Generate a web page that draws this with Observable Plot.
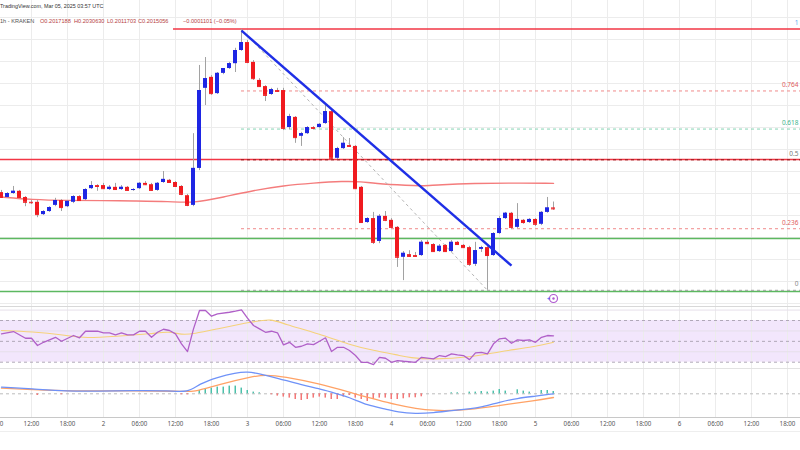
<!DOCTYPE html>
<html><head><meta charset="utf-8">
<script src="https://cdn.jsdelivr.net/npm/d3@7"></script>
<script src="https://cdn.jsdelivr.net/npm/@observablehq/plot@0.6"></script>
<style>
html,body{margin:0;padding:0;background:#fff;}
#chart{position:relative;width:800px;height:450px;overflow:hidden;font-family:"Liberation Sans",Arial,sans-serif;background:#fff;}
.pane{position:absolute;left:0;}
.hdr{position:absolute;white-space:nowrap;line-height:1;font-size:5.6px;}
.val{color:#b5423f;}
</style></head><body>
<div id="chart">
 <div id="price" class="pane" style="top:0"></div>
 <div id="rsi" class="pane" style="top:306px"></div>
 <div id="macd" class="pane" style="top:368px"></div>
 <div style="position:absolute;left:0;top:431px;width:800px;height:1px;background:#eeeeee"></div>
 <div class="hdr" style="left:0;top:4px;color:#333;font-size:5.4px">TradingView.com, Mar 05, 2025 03:57 UTC</div>
 <div id="ohlc"></div>
</div>
<script>
// ---------- data ----------
const firstCandle = new Date("2025-03-01T07:00:00Z"); // 1h candles, DOGE/USD Kraken
const open  = [.2052,.2041,.2050,.2055,.2041,.2030,.2030,.2002,.2009,.2023,
 .2034,.2020,.2030,.2043,.2036,.2061,.2068,.2068,.2059,.2064,
 .2059,.2064,.2057,.2061,.2073,.2070,.2057,.2075,.2080,.2075,
 .2066,.2045,.2023,.2107,.2289,.2314,.2277,.2323,.2334,.2345,
 .2375,.2393,.2348,.2307,.2293,.2275,.2284,.2284,.2200,.2223,
 .2180,.2186,.2200,.2200,.2209,.2236,.2130,.2152,.2159,.2157,
 .2064,.1984,.1993,.1941,.1998,.1989,.1973,.1905,.1911,.1909,
 .1909,.1939,.1934,.1918,.1932,.1918,.1939,.1932,.1927,.1889,
 .1923,.1927,.1909,.1959,.1993,.2005,.1973,.1989,.1984,.1991,
 .1980,.2007,.2017188];
const high  = [.2057,.2052,.2066,.2057,.2043,.2034,.2034,.2011,.2020,.2039,
 .2036,.2034,.2045,.2045,.2061,.2077,.2070,.2073,.2068,.2073,
 .2068,.2066,.2061,.2075,.2077,.2073,.2075,.2100,.2082,.2077,
 .2068,.2048,.2186,.2341,.2359,.2318,.2325,.2330,.2348,.2380,
 .2423,.2398,.2352,.2311,.2295,.2289,.2289,.2289,.2230,.2225,
 .2189,.2202,.2202,.2209,.2250,.2239,.2155,.2177,.2175,.2159,
 .2066,.1995,.2007,.2002,.2009,.1993,.1975,.1918,.1920,.1916,
 .1943,.1943,.1936,.1934,.1934,.1943,.1941,.1934,.1930,.1939,
 .1930,.1930,.1961,.1998,.2007,.2007,.2027,.1991,.1993,.1993,
 .2009,.2041,.2030630];
const low   = [.2039,.2039,.2048,.2039,.2020,.2025,.1995,.2000,.2007,.2020,
 .2009,.2018,.2027,.2032,.2034,.2059,.2055,.2059,.2057,.2057,
 .2057,.2055,.2055,.2059,.2068,.2055,.2055,.2073,.2073,.2064,
 .2045,.2020,.2020,.2102,.2250,.2273,.2275,.2320,.2332,.2325,
 .2373,.2345,.2307,.2291,.2259,.2273,.2280,.2193,.2195,.2164,
 .2157,.2184,.2195,.2198,.2207,.2127,.2127,.2150,.2155,.2059,
 .1982,.1982,.1934,.1936,.1986,.1970,.1882,.1852,.1905,.1905,
 .1907,.1934,.1916,.1916,.1916,.1916,.1932,.1925,.1884,.1884,
 .1916,.1830,.1907,.1957,.1991,.1968,.1970,.1980,.1982,.1975,
 .1977,.2005,.2011703];
const close = [.2041,.2050,.2055,.2041,.2030,.2029,.2002,.2009,.2018,.2034,
 .2018,.2032,.2043,.2034,.2059,.2068,.2066,.2061,.2064,.2059,
 .2064,.2057,.2059,.2073,.2070,.2057,.2073,.2082,.2075,.2066,
 .2048,.2023,.2107,.2284,.2311,.2277,.2323,.2334,.2345,.2375,
 .2393,.2348,.2311,.2293,.2273,.2286,.2282,.2198,.2225,.2177,
 .2186,.2200,.2198,.2207,.2236,.2130,.2152,.2164,.2157,.2061,
 .1984,.1993,.1939,.1998,.1989,.1973,.1905,.1914,.1907,.1907,
 .1939,.1936,.1918,.1930,.1918,.1939,.1934,.1927,.1889,.1920,
 .1927,.1909,.1959,.1993,.2005,.1973,.1991,.1984,.1991,.1980,
 .2007,.2017,.2015056];

// moving average on price (candle index, value)
const maIdx = [0,5,11,17,22,28,32,37,42,47,52,57,60,62,68,70,73,79,84,92];
const maVal = [.2042,.2036,.2034,.2034,.2033,.2032,.2028,.2042,.2057,.2068,.2074,.2078,.2077,.2073,.2068,.2067,.2070,.2073,.2074,.2073];

// RSI and its moving average
const rsiIdx = [0,2,4,5,6,7,9,10,12,13,14,16,17,18,19,20,21,22,23,24,25,26,27,28,29,30,31,32,33,34,35,36,38,39,40,41,42,43,44,45,46,47,48,49,50,51,52,53,54,55,56,57,58,59,60,61,62,63,64,65,66,67,69,70,72,73,74,75,76,77,78,79,80,81,82,83,84,85,86,87,88,89,90,91,92];
const rsiVal = [57.2,59.4,53.0,53.0,46.0,49.1,53.9,50.1,55.6,53.4,59.7,59.7,58.2,58.2,56.2,58.2,56.2,56.2,59.7,59.7,53.9,58.7,61.6,60.4,57.2,47.6,40.2,62.0,79.6,79.6,74.1,76.4,77.9,78.9,80.2,72.2,65.2,62.0,58.7,59.7,58.2,46.6,49.1,44.3,45.3,47.6,46.9,50.1,53.4,40.2,44.3,44.3,41.2,36.4,29.9,29.9,27.7,34.7,33.8,29.9,31.6,30.9,29.9,34.7,33.2,36.4,35.4,38.0,37.0,36.4,32.5,39.0,39.5,38.0,47.6,52.4,53.0,48.2,51.4,50.8,51.4,49.1,53.9,55.6,55.3];
const rsiMaIdx = [0,5,11,14,19,25,28,30,32,36,42,45,47,53,58,62,66,68,72,78,83,89,92];
const rsiMaVal = [60.4,59.4,55.6,53.0,54.9,57.2,59.7,56.2,57.2,62.0,69.0,71.6,66.8,57.2,46.6,41.2,37.0,34.2,32.5,34.7,40.2,45.0,49.1];
const rsiLevels = [70,50,30];
const rsiGrid = [80,60,40];

// MACD, signal, histogram
const macdIdx = [0,5,11,16,22,28,31,33,36,39,41,43,46,50,53,55,58,61,64,66,69,72,75,78,80,83,86,89,92];
const macdVal = [0.00066,0.00050,0.00026,0.00026,0.00033,0.00033,0.00010,0.00100,0.00166,0.00210,0.00223,0.00200,0.00156,0.00090,0.00050,0.00016,-0.00034,-0.00117,-0.00150,-0.00184,-0.00200,-0.00190,-0.00167,-0.00150,-0.00134,-0.00084,-0.00044,-0.00024,0.00000];
const signalIdx = [0,5,11,22,30,32,36,42,44,47,53,58,66,72,78,83,89,92];
const signalVal = [0.00056,0.00043,0.00026,0.00033,0.00026,0.00016,0.00090,0.00176,0.00190,0.00173,0.00100,0.00016,-0.00117,-0.00177,-0.00160,-0.00117,-0.00067,-0.00037];
const histIdx = [6,10,30,31,33,34,35,36,37,38,39,40,41,42,43,45,46,47,48,49,50,51,52,53,54,55,56,57,58,59,60,61,62,63,64,65,66,67,68,69,70,75,76,78,79,80,81,82,83,84,86,87,88,90,91,92];
const histVal = [-0.00017,-0.00010,-0.00010,-0.00010,0.00033,0.00050,0.00057,0.00067,0.00067,0.00077,0.00077,0.00057,0.00033,0.00017,0.00010,-0.00010,-0.00023,-0.00033,-0.00043,-0.00057,-0.00067,-0.00057,-0.00043,-0.00033,-0.00043,-0.00057,-0.00057,-0.00033,-0.00017,-0.00043,-0.00057,-0.00077,-0.00057,-0.00043,-0.00043,-0.00057,-0.00057,-0.00050,-0.00040,-0.00040,-0.00030,0.00010,0.00010,0.00017,0.00017,0.00023,0.00017,0.00027,0.00043,0.00027,0.00040,0.00027,0.00017,0.00033,0.00033,0.00023];

// drawings
const fibLevels = [0, 0.236, 0.5, 0.618, 0.764, 1];
const fibLabels = ["0", "0.236", "0.5", "0.618", "0.764", "1"];
const fibHighIdx = 40, fibHigh = 0.2423;   // swing high
const fibLowIdx = 81, fibLow = 0.1830;     // swing low
const trendIdx = [40, 85];                 // bearish trend line
const trendPrice = [0.2420, 0.1886];
const resistanceTop = 0.2424, resistanceTopStartIdx = 28.67;
const resistanceMid = 0.2127;
const supports = [0.1948, 0.1827];
const priceGrid = [0.180,0.185,0.190,0.195,0.200,0.205,0.210,0.215,0.220,0.225,0.230,0.235,0.240,0.245];
const tickStart = new Date("2025-03-01T06:00:00Z");
const tickLabels = ["06:00","12:00","18:00","2","06:00","12:00","18:00","3","06:00","12:00","18:00","4","06:00","12:00","18:00","5","06:00","12:00","18:00","6","06:00","12:00","18:00"];
const legendItems = ["O0.2017188", "H0.2030630", "L0.2011703", "C0.2015056", "−0.0001101 (−0.05%)"];

// ---------- helpers ----------
const H = 3600e3;
const at = i => new Date(+firstCandle + i * H);
const t0 = new Date(+firstCandle - H / 6);          // 1px left of first candle centre
const t1 = new Date(+t0 + 800 / 6 * H);            // 6px per hour
const tickTimes = tickLabels.map((_, k) => new Date(+tickStart + k * 6 * H));
const candles = open.map((o, i) => ({t: at(i), o, h: high[i], l: low[i], c: close[i]}));
const UP = "#1e26e4", DN = "#f01a1f", GRID = "#ececec";
const xScale = {type: "utc", domain: [t0, t1], axis: null};
const pair = (idx, val) => idx.map((i, k) => ({t: at(i), v: val[k]}));
const fibPrice = f => fibLow + f * (fibHigh - fibLow);
const fibColors = ["#9e9e9e", "#f08a8a", "#8b1a1a", "#86d4b4", "#f08a8a", "#7fb8f0"];
const fibTextColors = ["#8a8a8a", "#e06060", "#777777", "#3fb48c", "#e06060", "#5aa9ef"];

// header legend line
{
  const box = document.getElementById("ohlc");
  const lefts = [40, 74, 107, 138, 183];
  let html = `<div class="hdr" style="left:0;top:19px;color:#555">1h - KRAKEN</div>`;
  legendItems.forEach((s, k) => { html += `<div class="hdr val" style="left:${lefts[k]}px;top:19px">${s}</div>`; });
  box.innerHTML = html;
}

// ---------- price pane ----------
const fibData = fibLevels.map((f, k) => ({p: fibPrice(f), label: fibLabels[k], k}));
const price = Plot.plot({
  width: 800, height: 306, margin: 0,
  x: xScale,
  y: {domain: [0.2 - 91 / 4400, 0.2 + 215 / 4400], axis: null},
  style: {background: "transparent", overflow: "visible"},
  marks: [
    Plot.ruleX(tickTimes, {stroke: GRID}),
    Plot.ruleY(priceGrid, {stroke: GRID}),
    Plot.line(pair(maIdx, maVal), {x: "t", y: "v", stroke: "#f47c7c", strokeWidth: 1.4, curve: "basis"}),
    Plot.ruleY([resistanceTop], {x1: () => at(resistanceTopStartIdx), x2: () => t1, stroke: "#f23645", strokeWidth: 1.5}),
    Plot.ruleY([resistanceMid], {stroke: "#f23645", strokeWidth: 1.5}),
    Plot.ruleY(supports, {stroke: "#5cb860", strokeWidth: 1.5}),
    Plot.ruleY(fibData.filter(d => d.k < 5), {y: "p", x1: () => at(fibHighIdx), x2: () => t1,
      stroke: d => fibColors[d.k], strokeWidth: 1, strokeDasharray: "3,3"}),
    Plot.link([0], {x1: () => at(fibHighIdx), y1: () => fibHigh, x2: () => at(fibLowIdx), y2: () => fibLow,
      stroke: "#b5b5b5", strokeWidth: 1, strokeDasharray: "3,3"}),
    Plot.ruleX(candles, {x: "t", y1: "l", y2: "h", stroke: "#a2a2a2", strokeWidth: 1}),
    Plot.rect(candles, {x1: d => new Date(+d.t - H / 3), x2: d => new Date(+d.t + H / 3),
      y1: d => Math.min(d.o, d.c), y2: d => Math.max(d.o, d.c), fill: d => d.c >= d.o ? UP : DN}),
    Plot.ruleY(candles, {y: "c", x1: d => new Date(+d.t - H / 3), x2: d => new Date(+d.t + H / 3),
      stroke: d => d.c >= d.o ? UP : DN, strokeWidth: 1}),
    Plot.link([0], {x1: () => at(trendIdx[0]), y1: () => trendPrice[0], x2: () => at(trendIdx[1]), y2: () => trendPrice[1],
      stroke: "#1f2fe6", strokeWidth: 2.4}),
    Plot.text(fibData, {x: () => t1, y: "p", text: "label", textAnchor: "end", dx: -2, dy: -6,
      fill: d => fibTextColors[d.k], fontSize: 6.5}),
    Plot.dot([0], {x: () => at(92), frameAnchor: "bottom", dy: -8, r: 4, stroke: "#b05ad0", strokeWidth: 1.2, fill: "white"}),
    Plot.dot([0], {x: () => at(92), frameAnchor: "bottom", dy: -8, r: 1.2, fill: "#b05ad0"}),
    Plot.text([0], {x: () => at(91), frameAnchor: "bottom", dy: -6, dx: 1, text: () => "+", fill: "#3f51f5", fontSize: 6})
  ]
});
document.getElementById("price").appendChild(price);

// ---------- RSI pane ----------
const rsi = Plot.plot({
  width: 800, height: 62, margin: 0,
  x: xScale,
  y: {domain: [23.96, 83.43], axis: null},
  style: {background: "transparent", overflow: "visible"},
  marks: [
    Plot.rect([0], {x1: () => t0, x2: () => t1, y1: () => 30, y2: () => 70, fill: "#f2e6fc"}),
    Plot.ruleX(tickTimes, {stroke: GRID}),
    Plot.ruleY(rsiGrid, {stroke: "#e6e0ea"}),
    Plot.ruleY(rsiLevels, {stroke: "#b0a8b8", strokeDasharray: "3,3"}),
    Plot.frame({anchor: "top", stroke: "#d8d8d8"}),
    Plot.line(pair(rsiMaIdx, rsiMaVal), {x: "t", y: "v", stroke: "#f5d27a", strokeWidth: 1.1, curve: "basis"}),
    Plot.line(pair(rsiIdx, rsiVal), {x: "t", y: "v", stroke: "#b060c8", strokeWidth: 1.3})
  ]
});
document.getElementById("rsi").appendChild(rsi);

// ---------- MACD pane + time axis ----------
const hist = pair(histIdx, histVal);
const macd = Plot.plot({
  width: 800, height: 82, marginTop: 0, marginLeft: 0, marginRight: 0, marginBottom: 33,
  x: xScale,
  y: {domain: [-0.00237, 0.00253], axis: null},
  style: {background: "transparent", overflow: "visible"},
  marks: [
    Plot.ruleX(tickTimes, {stroke: GRID}),
    Plot.frame({anchor: "top", stroke: "#e2e2e2"}),
    Plot.ruleY([0], {stroke: "#bdbdbd", strokeDasharray: "3,3"}),
    Plot.rect(hist, {x1: d => new Date(+d.t - H / 12), x2: d => new Date(+d.t + H / 6), y1: () => 0, y2: "v",
      fill: d => d.v >= 0 ? "#4cc0aa" : "#f47777"}),
    Plot.line(pair(signalIdx, signalVal), {x: "t", y: "v", stroke: "#ffa266", strokeWidth: 1.3, curve: "basis"}),
    Plot.line(pair(macdIdx, macdVal), {x: "t", y: "v", stroke: "#6f92f8", strokeWidth: 1.3, curve: "basis"}),
    Plot.frame({anchor: "bottom", stroke: "#c8c8c8"}),
    Plot.text(tickTimes, {x: d => d, frameAnchor: "bottom", dy: 7, text: (d, k) => tickLabels[k],
      fill: "#555", fontSize: 6.2, lineAnchor: "middle"})
  ]
});
document.getElementById("macd").appendChild(macd);
</script>
</body></html>
